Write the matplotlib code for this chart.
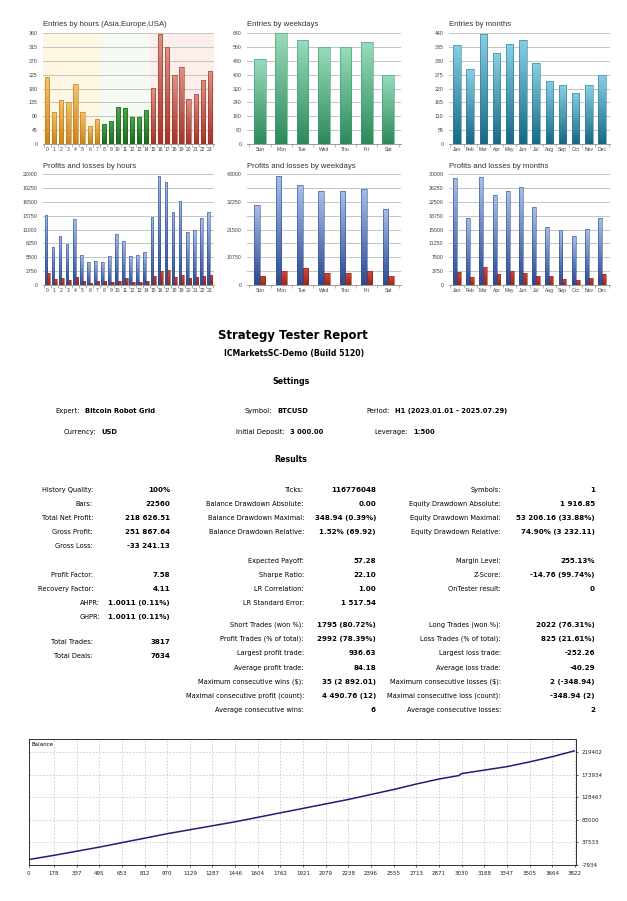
import numpy as np
import matplotlib
matplotlib.use("Agg")
import matplotlib.pyplot as plt
from matplotlib.colors import LinearSegmentedColormap


# ==================================
# DATA
# ==================================

hours = [str(h) for h in range(24)]
hour_entries = [216, 104, 144, 136, 194, 104, 57, 82, 65, 76, 120, 117,
                88, 87, 109, 181, 357, 313, 224, 249, 146, 163, 209, 237]

weekdays = ["Sun", "Mon", "Tue", "Wed", "Thu", "Fri", "Sat"]
weekday_entries = [489, 638, 597, 557, 557, 586, 396]

months = ["Jan", "Feb", "Mar", "Apr", "May", "Jun",
          "Jul", "Aug", "Sep", "Oct", "Nov", "Dec"]
month_entries = [393, 296, 438, 360, 397, 413, 323, 251, 232, 204, 232, 273]

hour_profits = [13900, 7600, 9700, 8050, 13000, 5900, 4600, 4750, 4600, 5750,
                10150, 8800, 5700, 5900, 6450, 13550, 21600, 20500, 14450,
                16650, 10550, 10900, 13350, 14450]
hour_losses = [2450, 1250, 1400, 1050, 1650, 800, 330, 800, 800, 600, 850,
               1400, 530, 600, 800, 1850, 2850, 2900, 1500, 1900, 1400,
               1650, 1800, 2000]

weekday_profits = [31000, 42200, 38700, 36400, 36400, 37200, 29300]
weekday_losses = [3600, 5550, 6450, 4500, 4500, 5300, 3350]

month_profits = [28800, 18200, 29100, 24300, 25400, 26600,
                 21150, 15600, 14850, 13250, 15050, 18100]
month_losses = [3600, 2150, 4750, 2950, 3800, 3250,
                2450, 2500, 1550, 1350, 1900, 2950]

balance_trades = [0, 178, 337, 495, 653, 812, 970, 1129, 1287, 1446, 1604,
                  1762, 1921, 2079, 2238, 2396, 2555, 2713, 2871, 3010,
                  3030, 3188, 3347, 3505, 3664, 3817]
balance_values = [3000, 11500, 19800, 28000, 37000, 46000, 55000, 63000,
                  71000, 79000, 88000, 97000, 106000, 115000, 124000,
                  134000, 144000, 155000, 165000, 172000, 176000, 183000,
                  190000, 199500, 210000, 221600]

balance_xticks = [0, 178, 337, 495, 653, 812, 970, 1129, 1287, 1446, 1604,
                  1762, 1921, 2079, 2238, 2396, 2555, 2713, 2871, 3030,
                  3188, 3347, 3505, 3664, 3822]
balance_yticks = [-7934, 37533, 83000, 128467, 173934, 219402]

settings_rows = [
    [("Expert:", "Bitcoin Robot Grid", 80, 411),
     ("Symbol:", "BTCUSD", 272, 411),
     ("Period:", "H1 (2023.01.01 - 2025.07.29)", 390, 411)],
    [("Currency:", "USD", 96, 432),
     ("Initial Deposit:", "3 000.00", 285, 432),
     ("Leverage:", "1:500", 408, 432)],
]

col1 = [("History Quality:", "100%", 490),
        ("Bars:", "22560", 504),
        ("Total Net Profit:", "218 626.51", 518),
        ("Gross Profit:", "251 867.64", 532),
        ("Gross Loss:", "-33 241.13", 546),
        ("Profit Factor:", "7.58", 575),
        ("Recovery Factor:", "4.11", 589),
        ("Total Trades:", "3817", 642),
        ("Total Deals:", "7634", 656)]
col1_hpr = [("AHPR:", "1.0011 (0.11%)", 603),
            ("GHPR:", "1.0011 (0.11%)", 617)]

col2 = [("Ticks:", "116776048", 490),
        ("Balance Drawdown Absolute:", "0.00", 504),
        ("Balance Drawdown Maximal:", "348.94 (0.39%)", 518),
        ("Balance Drawdown Relative:", "1.52% (69.92)", 532),
        ("Expected Payoff:", "57.28", 561),
        ("Sharpe Ratio:", "22.10", 575),
        ("LR Correlation:", "1.00", 589),
        ("LR Standard Error:", "1 517.54", 603),
        ("Short Trades (won %):", "1795 (80.72%)", 625),
        ("Profit Trades (% of total):", "2992 (78.39%)", 639),
        ("Largest profit trade:", "936.63", 653),
        ("Average profit trade:", "84.18", 668),
        ("Maximum consecutive wins ($):", "35 (2 892.01)", 682),
        ("Maximal consecutive profit (count):", "4 490.76 (12)", 696),
        ("Average consecutive wins:", "6", 710)]

col3 = [("Symbols:", "1", 490),
        ("Equity Drawdown Absolute:", "1 916.85", 504),
        ("Equity Drawdown Maximal:", "53 206.16 (33.88%)", 518),
        ("Equity Drawdown Relative:", "74.90% (3 232.11)", 532),
        ("Margin Level:", "255.13%", 561),
        ("Z-Score:", "-14.76 (99.74%)", 575),
        ("OnTester result:", "0", 589),
        ("Long Trades (won %):", "2022 (76.31%)", 625),
        ("Loss Trades (% of total):", "825 (21.61%)", 639),
        ("Largest loss trade:", "-252.26", 653),
        ("Average loss trade:", "-40.29", 668),
        ("Maximum consecutive losses ($):", "2 (-348.94)", 682),
        ("Maximal consecutive loss (count):", "-348.94 (2)", 696),
        ("Average consecutive losses:", "2", 710)]


# ==================================
# HELPERS
# ==================================

W, H = 627, 901
fig = plt.figure(figsize=(W / 100, H / 100), dpi=100)
fig.patch.set_facecolor("white")

CHART_FONT = "Liberation Sans"
REPORT_FONT = "DejaVu Sans"


def px_axes(left, top, right, bottom):
    return fig.add_axes([left / W, 1 - bottom / H,
                         (right - left) / W, (bottom - top) / H])


def px_text(x, y, s, **kw):
    fig.text(x / W, 1 - y / H, s, va="center", **kw)


def gradient_bars(ax, x, heights, width, top, bottom, edge):
    bars = ax.bar(x, heights, width, facecolor="none",
                  edgecolor=edge, linewidth=0.4, zorder=3)
    cmap = LinearSegmentedColormap.from_list("g", [bottom, top])
    grad = np.linspace(0, 1, 128).reshape(-1, 1)
    for b in bars:
        x0, w, h = b.get_x(), b.get_width(), b.get_height()
        im = ax.imshow(grad, cmap=cmap, origin="lower", aspect="auto",
                       extent=[x0, x0 + w, 0, h], zorder=2)
        im.set_clip_path(b)
    return bars


def setup_cat_axes(ax, labels, ymax, ystep, label_step=None):
    n = len(labels)
    ax.set_xlim(-0.6, n - 0.4)
    ax.set_ylim(0, ymax)
    label_step = label_step or ystep
    ax.set_yticks(np.arange(0, ymax + 1, label_step))
    ax.set_yticks(np.arange(0, ymax + 1, ystep), minor=True)
    ax.set_yticklabels([str(int(v)) for v in np.arange(0, ymax + 1, label_step)])
    ax.yaxis.grid(True, which="both", color="#C4C4C4", linewidth=0.7)
    ax.set_axisbelow(True)
    ax.set_xticks(range(n))
    ax.set_xticklabels(labels)
    ax.set_xticks(np.arange(-0.5, n, 1), minor=True)
    for s in ["top", "right", "left"]:
        ax.spines[s].set_visible(False)
    ax.spines["bottom"].set_color("#9A9A9A")
    ax.spines["bottom"].set_linewidth(0.7)
    ax.tick_params(axis="x", which="major", length=0, pad=2.5,
                   labelsize=3.6, labelcolor="#404040")
    ax.tick_params(axis="x", which="minor", length=2, width=0.5,
                   color="#9A9A9A")
    ax.tick_params(axis="y", which="both", length=0, pad=4,
                   labelsize=3.8, labelcolor="#404040")
    for lab in ax.get_xticklabels() + ax.get_yticklabels():
        lab.set_family(CHART_FONT)
    ax.set_facecolor("white")


def chart_title(x, y, s):
    px_text(x, y, s, ha="left", fontsize=5.6, family=CHART_FONT,
            color="#333333")


# ==================================
# ENTRIES CHARTS
# ==================================

ax = px_axes(43, 33, 214, 144)
ax.axvspan(-0.6, 7.5, color="#FFF7E2", zorder=0)
ax.axvspan(7.5, 14.5, color="#F5FAF3", zorder=0)
ax.axvspan(14.5, 23.6, color="#FCEFEB", zorder=0)
hx = np.arange(len(hours))
gradient_bars(ax, hx[:8], hour_entries[:8], 0.6, "#F4C46E", "#C8851C", "#B8781A")
gradient_bars(ax, hx[8:15], hour_entries[8:15], 0.6, "#4DA84D", "#1D6A1D", "#1D601D")
gradient_bars(ax, hx[15:], hour_entries[15:], 0.6, "#DE9484", "#A2342A", "#983028")
setup_cat_axes(ax, hours, 360, 45)
chart_title(43, 24, "Entries by hours (Asia,Europe,USA)")

ax = px_axes(247, 33, 401, 144)
gradient_bars(ax, np.arange(7), weekday_entries, 0.55,
              "#98DCBC", "#2C895A", "#3C9A6A")
setup_cat_axes(ax, weekdays, 640, 80)
chart_title(247, 24, "Entries by weekdays")

ax = px_axes(449, 33, 610, 144)
gradient_bars(ax, np.arange(12), month_entries, 0.55,
              "#88D0E4", "#186884", "#2A7C96")
setup_cat_axes(ax, months, 440, 55)
chart_title(449, 24, "Entries by months")


# ==================================
# PROFITS AND LOSSES CHARTS
# ==================================

BLUE_TOP, BLUE_BOT, BLUE_EDGE = "#A6BFEA", "#2A4A94", "#2F4F8F"
RED_TOP, RED_BOT, RED_EDGE = "#D4493C", "#962818", "#8A2418"

ax = px_axes(43, 174, 214, 285)
gradient_bars(ax, hx - 0.19, hour_profits, 0.38, BLUE_TOP, BLUE_BOT, BLUE_EDGE)
gradient_bars(ax, hx + 0.19, hour_losses, 0.38, RED_TOP, RED_BOT, RED_EDGE)
setup_cat_axes(ax, hours, 22000, 2750)
chart_title(43, 166, "Profits and losses by hours")

wx = np.arange(7)
ax = px_axes(247, 174, 401, 285)
gradient_bars(ax, wx - 0.13, weekday_profits, 0.26, BLUE_TOP, BLUE_BOT, BLUE_EDGE)
gradient_bars(ax, wx + 0.13, weekday_losses, 0.26, RED_TOP, RED_BOT, RED_EDGE)
setup_cat_axes(ax, weekdays, 43000, 5375, label_step=10750)
chart_title(247, 166, "Profits and losses by weekdays")

mx = np.arange(12)
ax = px_axes(449, 174, 610, 285)
gradient_bars(ax, mx - 0.15, month_profits, 0.3, BLUE_TOP, BLUE_BOT, BLUE_EDGE)
gradient_bars(ax, mx + 0.15, month_losses, 0.3, RED_TOP, RED_BOT, RED_EDGE)
setup_cat_axes(ax, months, 30000, 3750)
chart_title(449, 166, "Profits and losses by months")


# ==================================
# REPORT TEXT
# ==================================

px_text(293, 335, "Strategy Tester Report", ha="center", fontsize=8.4,
        fontweight="bold", family=REPORT_FONT)
px_text(294, 353, "ICMarketsSC-Demo (Build 5120)", ha="center", fontsize=5.6,
        fontweight="bold", family=REPORT_FONT)
px_text(291, 381, "Settings", ha="center", fontsize=5.7,
        fontweight="bold", family=REPORT_FONT)
px_text(291, 459, "Results", ha="center", fontsize=5.7,
        fontweight="bold", family=REPORT_FONT)

for row in settings_rows:
    for label, value, xr, y in row:
        px_text(xr, y, label, ha="right", fontsize=4.9, family=REPORT_FONT)
        px_text(xr + 5, y, value, ha="left", fontsize=4.9,
                fontweight="bold", family=REPORT_FONT)


def result_column(rows, label_right, value_right):
    for label, value, y in rows:
        px_text(label_right, y, label, ha="right", fontsize=4.8,
                family=REPORT_FONT)
        px_text(value_right, y, value, ha="right", fontsize=5.1,
                fontweight="bold", family=REPORT_FONT)


result_column(col1, 93, 170)
result_column(col1_hpr, 100, 170)
result_column(col2, 304, 376)
result_column(col3, 501, 595)


# ==================================
# BALANCE CHART
# ==================================

ax = px_axes(28.5, 739, 576, 865)
ax.plot(balance_trades, balance_values, color="#1E1E78", linewidth=1.1,
        zorder=3)
ax.set_xlim(0, 3830)
ax.set_ylim(-7934, 245600)
ax.set_xticks(balance_xticks)
ax.set_xticklabels([str(v) for v in balance_xticks])
ax.set_yticks(balance_yticks)
ax.set_yticklabels([str(v) for v in balance_yticks])
ax.yaxis.tick_right()
ax.grid(True, color="#C8C8C8", linewidth=0.6, linestyle=(0, (2, 2)))
ax.set_axisbelow(True)
for s in ax.spines.values():
    s.set_color("#303030")
    s.set_linewidth(0.7)
ax.tick_params(axis="both", length=1.5, width=0.5, labelsize=4.0,
               pad=2.5, colors="#202020")
for lab in ax.get_xticklabels() + ax.get_yticklabels():
    lab.set_family(REPORT_FONT)
ax.text(0.006, 0.955, "Balance", transform=ax.transAxes, ha="left",
        va="center", fontsize=4.0, family=REPORT_FONT)

fig.savefig("out.png", dpi=100, facecolor="white")
